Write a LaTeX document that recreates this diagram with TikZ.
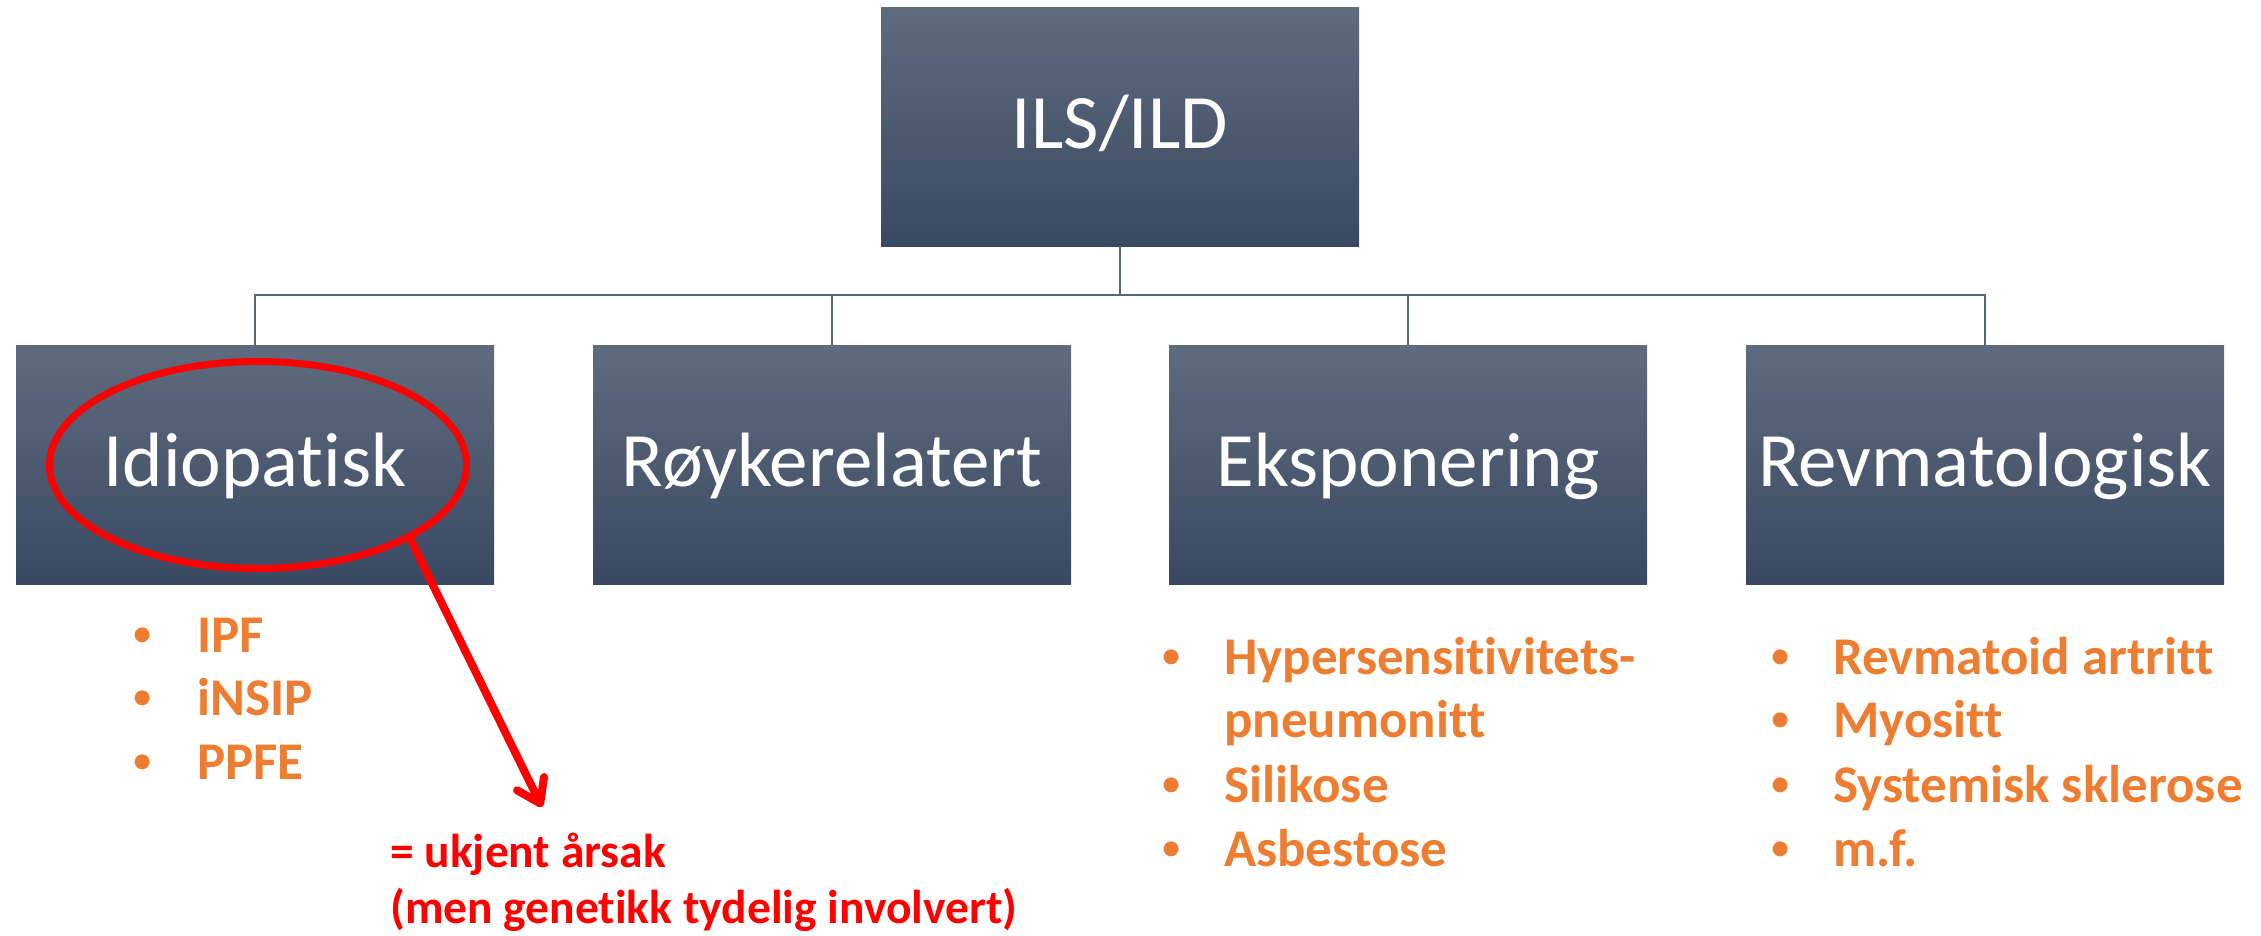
\documentclass[tikz,border=0pt]{standalone}
\usepackage{fontspec}
\usetikzlibrary{shapes.geometric,arrows.meta}
\newfontfamily\calfont[Ligatures=NoCommon]{Carlito}
\newfontfamily\arlfont{Liberation Sans}
\definecolor{boxtop}{HTML}{5F6B7E}
\definecolor{boxbot}{HTML}{3A4962}
\definecolor{connc}{HTML}{56657C}
\definecolor{orng}{HTML}{ED7D31}
\definecolor{redc}{HTML}{FF0000}
\tikzset{
  boxnode/.style={rectangle, inner sep=0pt, minimum width=478pt, minimum height=239pt,
    top color=boxtop, bottom color=boxbot, draw=none, text=white,
    font=\calfont\fontsize{77}{93}\selectfont, text depth=0pt},
  conn/.style={draw=connc, line width=1.8pt},
  item/.style={anchor=base west, inner sep=0pt, text=orng, font=\calfont\bfseries\fontsize{53}{63}\selectfont},
  bul/.style={anchor=base, inner sep=0pt, text=orng, font=\arlfont\bfseries\fontsize{52}{62}\selectfont},
  note/.style={anchor=base west, inner sep=0pt, text=redc, font=\calfont\bfseries\fontsize{47.5}{57}\selectfont},
}
\begin{document}
\begin{tikzpicture}[x=1pt,y=-1pt]
\useasboundingbox[fill=white] (0,0) rectangle (2261,935);
% boxes
\node[boxnode, text height=43pt] (top) at (1120,126.5) {ILS/ILD};
\node[boxnode, text height=44pt] (c1) at (255,464.5) {Idiopatisk};
\node[boxnode, text height=44pt] (c2) at (832,464.5) {Røykerelatert};
\node[boxnode, text height=44pt] (c3) at (1408,464.5) {Eksponering};
\node[boxnode, text height=44pt] (c4) at (1985,464.5) {Revmatologisk};
% connectors
\coordinate (bus) at (1120,295);
\draw[conn] (top.south) -- (bus);
\draw[conn] (c1.north) |- (bus) -| (c4.north);
\draw[conn] (c2.north) |- (bus);
\draw[conn] (c3.north) |- (bus);
% lists
\node[bul] (b11) at (143,652) {•}; \node[item] (t11) at (197,652) {IPF};
\node[bul] (b12) at (143,715) {•}; \node[item] (t12) at (197,715) {iNSIP};
\node[bul] (b13) at (143,779) {•}; \node[item] (t13) at (197,779) {PPFE};
\node[bul] (b31) at (1172,674) {•}; \node[item] (t31) at (1224,674) {Hypersensitivitets-};
\node[item] (t31b) at (1224,737) {pneumonitt};
\node[bul] (b32) at (1172,802) {•}; \node[item] (t32) at (1224,802) {Silikose};
\node[bul] (b33) at (1172,866) {•}; \node[item] (t33) at (1224,866) {Asbestose};
\node[bul] (b41) at (1781,674) {•}; \node[item] (t41) at (1833,674) {Revmatoid artritt};
\node[bul] (b42) at (1781,737) {•}; \node[item] (t42) at (1833,737) {Myositt};
\node[bul] (b43) at (1781,802) {•}; \node[item] (t43) at (1833,802) {Systemisk sklerose};
\node[bul] (b44) at (1781,866) {•}; \node[item] (t44) at (1833,866) {m.f.};
% highlight
\node[ellipse, draw=redc, line width=7pt, minimum width=417pt, minimum height=207pt, inner sep=0pt] (idell) at (258,465) {};
\coordinate (tipc) at (542,807);
\draw[redc, line width=8pt, -{Straight Barb[length=22pt,width=30pt,round]}] (idell.-26.7) -- (tipc);
\node[note] (n1) at (390,867) {= ukjent årsak};
\node[note] (n2) at (390,923) {(men genetikk tydelig involvert)};
\end{tikzpicture}
\end{document}
